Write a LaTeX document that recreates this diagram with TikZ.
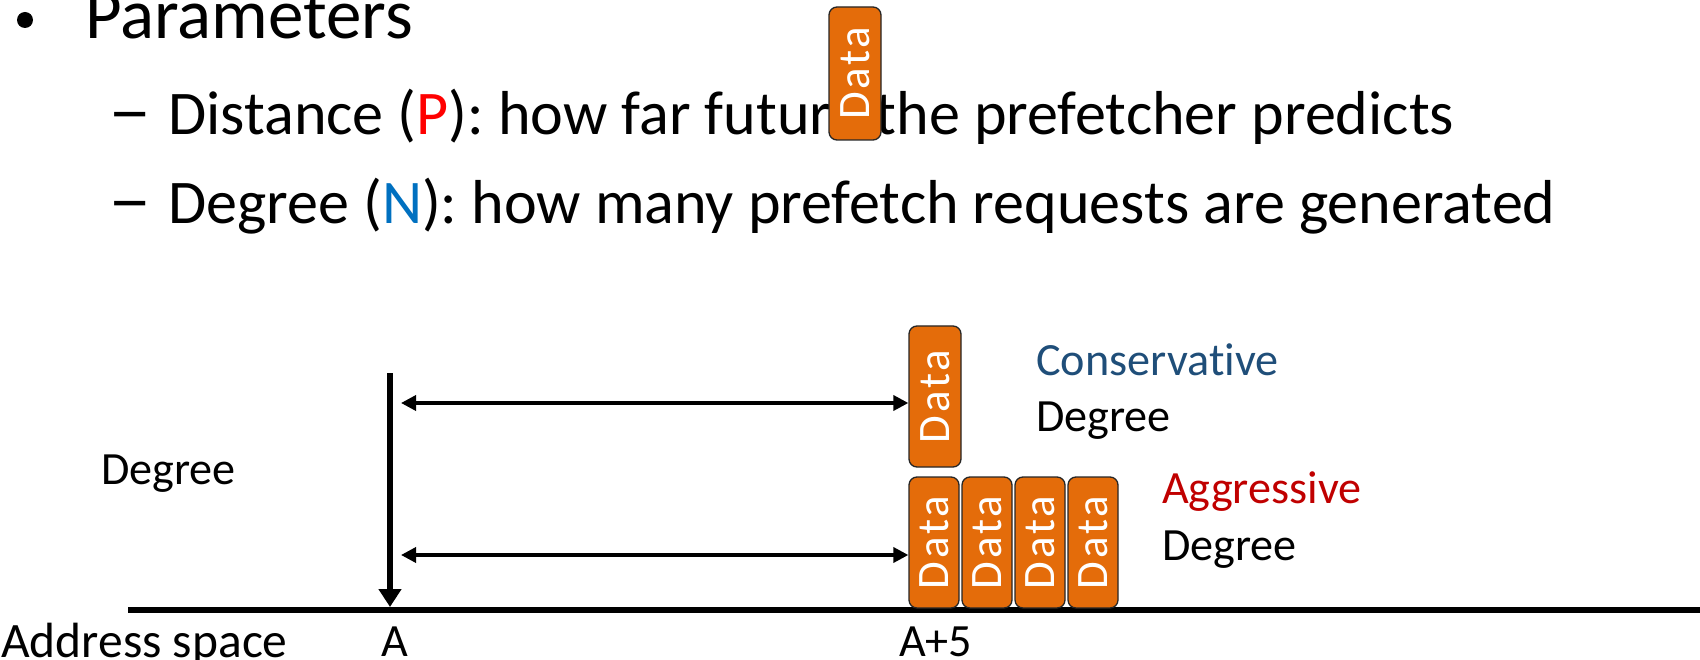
\documentclass[tikz,border=0pt]{standalone}
\usepackage{fontspec}
\setmainfont[Ligatures={NoCommon}]{Carlito}
\usetikzlibrary{arrows.meta}
\definecolor{dataorange}{HTML}{E46C0A}
\definecolor{consblue}{HTML}{1F4E79}
\definecolor{aggred}{HTML}{C00000}
\definecolor{nblue}{HTML}{0070C0}
\tikzset{
  txt/.style={inner sep=0pt, anchor=base west},
  bigtxt/.style={txt, font=\fontsize{71}{80}\selectfont},
  midtxt/.style={txt, font=\fontsize{62.1}{70}\selectfont},
  smalltxt/.style={txt, font=\fontsize{46.2}{52}\selectfont},
  databox/.style={draw=black!85, line width=1.3pt, fill=dataorange,
    rounded corners=8pt, inner sep=0pt, minimum width=52pt,
    text=white, font=\fontsize{45}{52}\selectfont\addfontfeature{LetterSpace=6}},
  dist/.style={line width=3.5pt, {Triangle[length=15pt,width=15pt]}-{Triangle[length=15pt,width=15pt]}},
  pointer/.style={line width=6.5pt, -{Triangle[length=18pt,width=22pt]}},
  axisline/.style={line width=6pt}
}
\newcommand{\wdash}{\scalebox{1.4}[1.15]{–}}
\begin{document}
\begin{tikzpicture}[x=1pt,y=-1pt]
\useasboundingbox (0,0) rectangle (1700,660);

% bullet list
\fill (25,20) circle (8pt);
\node[bigtxt] (title) at (85,39) {Parameters};
\node[midtxt] (dash1) at (108,135) {\wdash};
\node[midtxt] (line1) at (168,135) {Distance ({\color{red}P}): how far future the prefetcher predicts};
\node[midtxt] (dash2) at (108,224) {\wdash};
\node[midtxt] (line2) at (168,224) {Degree ({\color{nblue}N}): how many prefetch requests are generated};

% floating data block
\node[databox, minimum height=133pt] (fly) at (855,73.5) {\rotatebox{90}{Data}};

% address axis
\coordinate (axL) at (128,610);
\coordinate (axR) at (1700,610);
\draw[axisline] (axL) -- (axR);
\coordinate (ptop) at (390,373);
\coordinate (pA) at (390,607);
\draw[pointer] (ptop) -- (pA);

% data blocks
\node[databox, minimum height=141pt] (c1) at (935,396.5) {\rotatebox{90}{Data}};
\node[databox, minimum width=50pt, minimum height=131pt] (g1) at (934,542.5) {\rotatebox{90}{Data}};
\node[databox, minimum width=50pt, minimum height=131pt] (g2) at (987,542.5) {\rotatebox{90}{Data}};
\node[databox, minimum width=50pt, minimum height=131pt] (g3) at (1040,542.5) {\rotatebox{90}{Data}};
\node[databox, minimum width=50pt, minimum height=131pt] (g4) at (1093,542.5) {\rotatebox{90}{Data}};

% distance arrows
\coordinate (d1) at (401,403);
\coordinate (d2) at (401,555);
\draw[dist] (d1) -- (d1 -| c1.west);
\draw[dist] (d2) -- (d2 -| g1.west);

% labels
\node[smalltxt] (degL) at (101,484) {Degree};
\node[smalltxt, text=consblue] (cons) at (1036,375) {Conservative};
\node[smalltxt] (consdeg) at (1036,431) {Degree};
\node[smalltxt, text=aggred] (aggr) at (1162,503) {Aggressive};
\node[smalltxt] (aggrdeg) at (1162,560) {Degree};
\node[smalltxt, font=\fontsize{49.5}{56}\selectfont] (addr) at (1,657) {Address space};
\node[smalltxt] (labA) at (381,656) {A};
\node[smalltxt] (labA5) at (899,656) {A+5};
\end{tikzpicture}
\end{document}
